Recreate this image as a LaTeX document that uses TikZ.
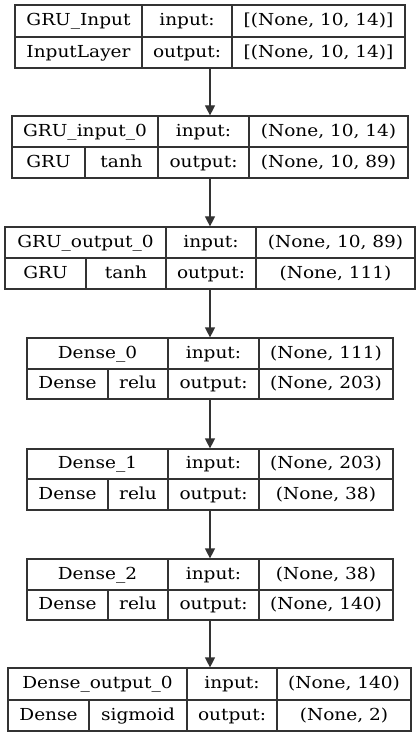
\documentclass[tikz,border=0pt]{standalone}
\usepackage{fontspec}
\setmainfont{DejaVu Serif}[FakeStretch=1.12]
\usetikzlibrary{arrows.meta}

\tikzset{
  cell/.style={draw=black!80, line width=0.9pt, inner sep=0pt, text height=0.73em, text depth=0pt},
  flow/.style={draw=black!80, line width=0.9pt, -{Triangle[length=7.5pt,width=7.5pt]}}
}
\newcommand{\cell}[6]{\node[cell, minimum width={(#4-#2)*0.75pt}, minimum height={(#5-#3)*0.75pt}]
  (#1) at ({(#2+#4)/2},{(#3+#5)/2}) {#6};}

\begin{document}
\begin{tikzpicture}[x=0.75pt, y=-0.75pt, font=\fontsize{12.4}{14}\selectfont]
\useasboundingbox (0,0) rectangle (420,737);

% GRU_Input
\cell{inL}{15}{5}{405}{68}{}
\cell{inA}{15}{5}{142}{37}{GRU\_Input}
\cell{inB}{142}{5}{232}{37}{input:}
\cell{inC}{232}{5}{405}{37}{[(None, 10, 14)]}
\cell{inD}{15}{37}{142}{68}{InputLayer}
\cell{inE}{142}{37}{232}{68}{output:}
\cell{inF}{232}{37}{405}{68}{[(None, 10, 14)]}

% GRU_input_0
\cell{giL}{12}{116}{408}{178}{}
\cell{giA}{12}{116}{158}{147}{GRU\_input\_0}
\cell{giB}{158}{116}{249}{147}{input:}
\cell{giC}{249}{116}{408}{147}{(None, 10, 14)}
\cell{giD}{12}{147}{85}{178}{GRU}
\cell{giE}{85}{147}{158}{178}{tanh}
\cell{giF}{158}{147}{249}{178}{output:}
\cell{giG}{249}{147}{408}{178}{(None, 10, 89)}

% GRU_output_0
\cell{goL}{5}{227}{415}{289}{}
\cell{goA}{5}{227}{166}{258}{GRU\_output\_0}
\cell{goB}{166}{227}{256}{258}{input:}
\cell{goC}{256}{227}{415}{258}{(None, 10, 89)}
\cell{goD}{5}{258}{86}{289}{GRU}
\cell{goE}{86}{258}{166}{289}{tanh}
\cell{goF}{166}{258}{256}{289}{output:}
\cell{goG}{256}{258}{415}{289}{(None, 111)}

% Dense_0
\cell{dzL}{27}{338}{393}{399}{}
\cell{dzA}{27}{338}{168}{369}{Dense\_0}
\cell{dzB}{168}{338}{259}{369}{input:}
\cell{dzC}{259}{338}{393}{369}{(None, 111)}
\cell{dzD}{27}{369}{108}{399}{Dense}
\cell{dzE}{108}{369}{168}{399}{relu}
\cell{dzF}{168}{369}{259}{399}{output:}
\cell{dzG}{259}{369}{393}{399}{(None, 203)}

% Dense_1
\cell{doL}{27}{449}{393}{510}{}
\cell{doA}{27}{449}{168}{479}{Dense\_1}
\cell{doB}{168}{449}{259}{479}{input:}
\cell{doC}{259}{449}{393}{479}{(None, 203)}
\cell{doD}{27}{479}{108}{510}{Dense}
\cell{doE}{108}{479}{168}{510}{relu}
\cell{doF}{168}{479}{259}{510}{output:}
\cell{doG}{259}{479}{393}{510}{(None, 38)}

% Dense_2
\cell{dtL}{27}{559}{393}{620}{}
\cell{dtA}{27}{559}{168}{590}{Dense\_2}
\cell{dtB}{168}{559}{259}{590}{input:}
\cell{dtC}{259}{559}{393}{590}{(None, 38)}
\cell{dtD}{27}{590}{108}{620}{Dense}
\cell{dtE}{108}{590}{168}{620}{relu}
\cell{dtF}{168}{590}{259}{620}{output:}
\cell{dtG}{259}{590}{393}{620}{(None, 140)}

% Dense_output_0
\cell{doutL}{8}{668}{411}{731}{}
\cell{doutA}{8}{668}{187}{700}{Dense\_output\_0}
\cell{doutB}{187}{668}{277}{700}{input:}
\cell{doutC}{277}{668}{411}{700}{(None, 140)}
\cell{doutD}{8}{700}{89}{731}{Dense}
\cell{doutE}{89}{700}{187}{731}{sigmoid}
\cell{doutF}{187}{700}{277}{731}{output:}
\cell{doutG}{277}{700}{411}{731}{(None, 2)}

\foreach \p/\q in {inL/giL, giL/goL, goL/dzL, dzL/doL, doL/dtL, dtL/doutL}
{\draw[flow] (\p.south) -- (\p.south |- \q.north);}
\end{tikzpicture}
\end{document}
